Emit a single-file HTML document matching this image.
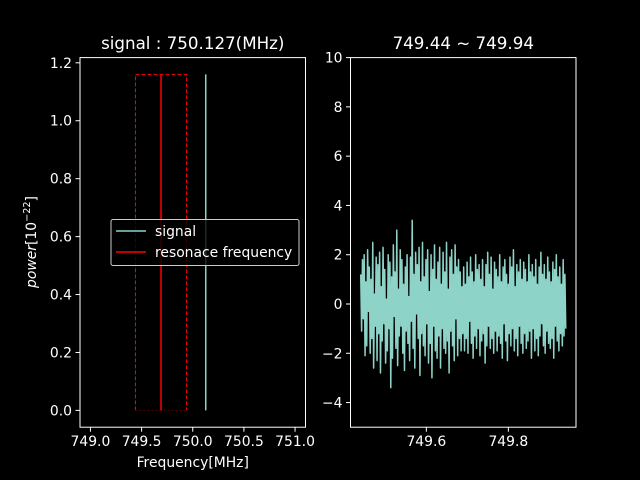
<!DOCTYPE html>
<html><head><meta charset="utf-8"><style>
body{margin:0;background:#000;}
svg{display:block;font-family:"DejaVu Sans","Liberation Sans",sans-serif;}
</style></head><body>
<svg id="c" width="640" height="480" viewBox="0 0 640 480"></svg>
<script>
const leftYTicks=[0.0,0.2,0.4,0.6,0.8,1.0,1.2];
const leftXTicks=[749.0,749.5,750.0,750.5,751.0];
const signalFreq=[750.127];
const signalPower=[1.16];
const resonanceFreq=[749.69];
const bandLow=[749.44];
const bandHigh=[749.94];
const rightYTicks=[-4,-2,0,2,4,6,8,10];
const rightXTicks=[749.6,749.8];
const noiseValues=[1.2,-1.1,1.8,-0.6,2.0,-2.1,0.9,-1.7,2.2,-0.3,1.5,-2.0,1.0,-1.4,2.5,-2.6,0.4,-0.9,1.9,-2.3,
1.6,-1.2,2.1,-2.8,0.7,-1.5,2.3,-0.8,1.4,-2.4,0.2,-1.9,2.0,-1.0,1.7,-3.4,1.1,-2.2,2.4,-0.5,
1.3,-1.8,3.0,-2.5,0.6,-1.3,2.2,-0.9,1.8,-2.0,0.8,-2.7,1.5,-1.1,2.0,-1.6,0.3,-2.3,1.9,-0.7,
3.4,-1.8,1.2,-2.6,2.1,-0.4,1.6,-1.4,2.3,-2.9,0.9,-1.2,2.5,-1.7,1.1,-2.1,1.8,-0.8,2.2,-2.4,
0.5,-1.6,2.0,-3.0,1.4,-0.9,2.4,-1.9,1.0,-2.2,1.7,-1.3,2.3,-2.6,0.8,-1.0,2.1,-1.8,1.3,-2.0,
2.5,-1.5,0.6,-2.8,1.9,-1.1,2.2,-1.7,1.2,-2.3,2.4,-0.6,1.5,-2.1,1.8,-1.4,1.3,-1.9,0.7,-1.2,
1.5,-1.9,0.8,-1.4,1.7,-2.0,1.1,-0.7,1.9,-1.6,1.3,-2.2,0.9,-1.3,2.0,-1.8,1.4,-1.0,1.6,-2.1,
1.0,-1.5,1.8,-1.2,0.7,-2.4,1.6,-1.7,2.1,-0.9,1.2,-1.8,1.9,-1.4,0.6,-2.0,1.7,-1.1,1.4,-1.9,
1.1,-1.3,2.0,-1.6,0.9,-2.2,1.5,-0.8,1.8,-1.5,1.2,-2.3,0.8,-1.2,1.9,-1.7,1.5,-1.0,2.2,-1.9,
0.7,-1.4,1.6,-2.1,1.3,-0.9,1.8,-1.6,1.0,-2.0,1.7,-1.2,1.4,-1.8,0.9,-1.5,2.0,-1.1,1.3,-2.2,
1.6,-1.0,1.1,-1.9,1.8,-1.4,0.8,-2.1,1.5,-1.3,2.1,-0.8,1.2,-1.7,1.6,-2.0,1.0,-1.1,1.9,-1.6,
1.3,-1.8,0.9,-1.4,1.7,-2.2,1.4,-0.9,2.0,-1.5,1.1,-1.9,1.5,-1.2,0.8,-1.7,1.8,-1.3,1.2,-1.0];
const noiseStart=749.44, noiseEnd=749.94;

const svg=document.getElementById('c');
const NS='http://www.w3.org/2000/svg';
function mk(tag,attrs,parent){const e=document.createElementNS(NS,tag);for(const k in attrs)e.setAttribute(k,attrs[k]);(parent||svg).appendChild(e);return e;}
function txt(s,attrs){const e=mk('text',Object.assign({fill:'#fff','font-size':'13.9'},attrs));e.textContent=s;return e;}

const L={x0:80,x1:305.5,y0:57.6,y1:427.2,xmin:748.898,xmax:751.102,ymin:-0.058,ymax:1.218};
const lx=v=>L.x0+(v-L.xmin)/(L.xmax-L.xmin)*(L.x1-L.x0);
const ly=v=>L.y1-(v-L.ymin)/(L.ymax-L.ymin)*(L.y1-L.y0);
const R={x0:350.5,x1:576,y0:57.6,y1:427.2,xmin:749.415,xmax:749.965,ymin:-5,ymax:10};
const rx=v=>R.x0+(v-R.xmin)/(R.xmax-R.xmin)*(R.x1-R.x0);
const ry=v=>R.y1-(v-R.ymin)/(R.ymax-R.ymin)*(R.y1-R.y0);

let e;
e=mk('path',{d:`M${lx(bandLow[0])},${ly(0)} V${ly(signalPower[0])} H${lx(bandHigh[0])} V${ly(0)}`,fill:'none',stroke:'#f00','stroke-width':1,'stroke-dasharray':'4,2'});


e=mk('line',{x1:lx(bandLow[0]),x2:lx(bandHigh[0]),y1:ly(0),y2:ly(0),stroke:'#500','stroke-width':1,'stroke-dasharray':'2,2'});


e=mk('line',{x1:lx(resonanceFreq[0]),x2:lx(resonanceFreq[0]),y1:ly(0),y2:ly(signalPower[0]),stroke:'#f00','stroke-width':1.5});


e=mk('line',{x1:lx(signalFreq[0]),x2:lx(signalFreq[0]),y1:ly(0),y2:ly(signalPower[0]),stroke:'#8dd3c7','stroke-width':1.5});



e=mk('rect',{x:L.x0,y:L.y0,width:L.x1-L.x0,height:L.y1-L.y0,fill:'none',stroke:'#fff','stroke-width':1});


leftYTicks.forEach(v=>{const y=ly(v);mk('line',{x1:L.x0-4.5,x2:L.x0,y1:y,y2:y,stroke:'#fff','stroke-width':1});
 e=txt(v.toFixed(1),{x:L.x0-8,y:y+5,'text-anchor':'end'});
 
 });
leftXTicks.forEach(v=>{const x=lx(v);mk('line',{x1:x,x2:x,y1:L.y1,y2:L.y1+4.5,stroke:'#fff','stroke-width':1});
 e=txt(v.toFixed(1),{x:x,y:L.y1+19,'text-anchor':'middle'});
 
 });
e=txt('signal : 750.127(MHz)',{x:(L.x0+L.x1)/2,y:49,'text-anchor':'middle','font-size':'16.7'});


e=txt('Frequency[MHz]',{x:(L.x0+L.x1)/2,y:467,'text-anchor':'middle'});


const yl=mk('text',{fill:'#fff','font-size':'13.9',transform:'translate(36,242) rotate(-90)','text-anchor':'middle'});


yl.innerHTML='<tspan font-style="italic">power</tspan>[10<tspan dy="-6" font-size="9.7">−22</tspan><tspan dy="6">]</tspan>';

const lg=mk('g',{});


mk('rect',{x:111,y:219.5,width:188,height:46,rx:2,fill:'#000','fill-opacity':0.8,stroke:'#ccc','stroke-width':1},lg);
mk('line',{x1:116,x2:146,y1:231,y2:231,stroke:'#8dd3c7','stroke-width':1.5},lg);
mk('line',{x1:116,x2:146,y1:252,y2:252,stroke:'#f00','stroke-width':1.5},lg);
e=txt('signal',{x:155,y:236});lg.appendChild(e);


e=txt('resonace frequency',{x:155,y:257});lg.appendChild(e);



const n=noiseValues.length;
const pts=noiseValues.map((v,i)=>rx(noiseStart+(noiseEnd-noiseStart)*i/(n-1)).toFixed(2)+','+ry(v).toFixed(2)).join(' ');
e=mk('polyline',{points:pts,fill:'none',stroke:'#8dd3c7','stroke-width':1.5,'stroke-linejoin':'round'});


e=mk('rect',{x:R.x0,y:R.y0,width:R.x1-R.x0,height:R.y1-R.y0,fill:'none',stroke:'#fff','stroke-width':1});


rightYTicks.forEach(v=>{const y=ry(v);mk('line',{x1:R.x0-4.5,x2:R.x0,y1:y,y2:y,stroke:'#fff','stroke-width':1});
 e=txt(v<0?'−'+Math.abs(v):String(v),{x:R.x0-8,y:y+5,'text-anchor':'end'});
 
 });
rightXTicks.forEach(v=>{const x=rx(v);mk('line',{x1:x,x2:x,y1:R.y1,y2:R.y1+4.5,stroke:'#fff','stroke-width':1});
 e=txt(v.toFixed(1),{x:x,y:R.y1+19,'text-anchor':'middle'});
 
 });
e=txt('749.44 ~ 749.94',{x:(R.x0+R.x1)/2,y:49,'text-anchor':'middle','font-size':'16.7'});


</script>
</body></html>
